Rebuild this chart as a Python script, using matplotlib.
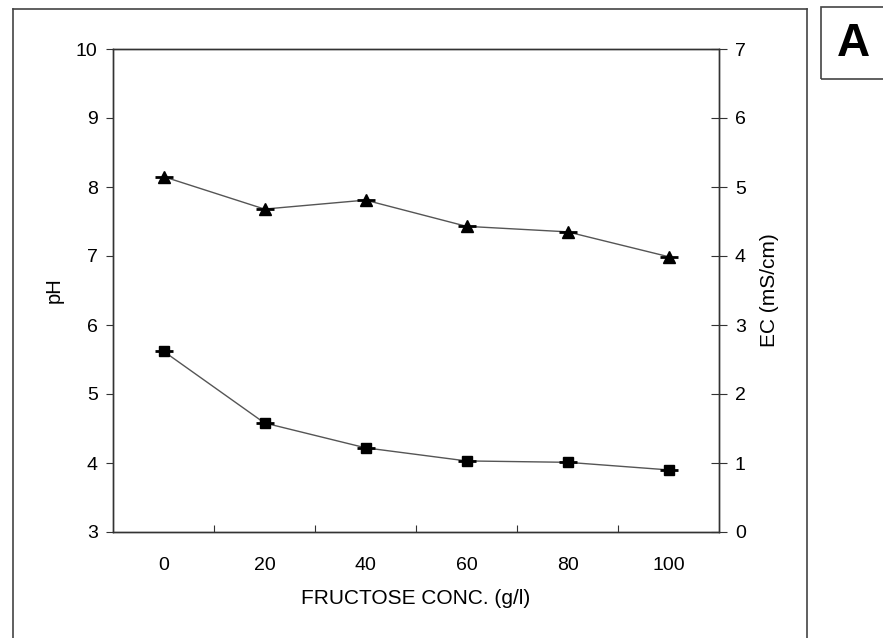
import matplotlib
matplotlib.use("Agg")
import matplotlib.pyplot as plt
from matplotlib.lines import Line2D
from matplotlib.patches import Rectangle

plt.rcParams['font.family'] = ['Liberation Sans', 'DejaVu Sans']

# Fructose concentration (g/l)
fructose = [0, 20, 40, 60, 80, 100]
# pH of the broth (left axis)
ph = [5.62, 4.58, 4.22, 4.03, 4.01, 3.90]
# Electrical conductivity, mS/cm (right axis)
ec = [5.15, 4.68, 4.81, 4.43, 4.35, 3.99]

x_labels = ['0', '20', '40', '60', '80', '100']
ph_ticks = [3, 4, 5, 6, 7, 8, 9, 10]
ec_ticks = [0, 1, 2, 3, 4, 5, 6, 7]

W, H = 883, 638
fig = plt.figure(figsize=(W / 100, H / 100), dpi=100)

def fx(px):
    return px / W

def fy(py):
    return 1 - py / H

ink = '#333333'

ax = fig.add_axes([fx(113), fy(532), fx(719) - fx(113), fy(49) - fy(532)])
ax2 = ax.twinx()

ax.set_xlim(-10, 110)
ax.set_ylim(3, 10)
ax2.set_ylim(0, 7)

line_kw = dict(color='#555555', lw=1.0, zorder=2)
ax.plot(fructose, ph, **line_kw)
ax.plot(fructose, ph, ls='none', marker='s', ms=7, color='black', zorder=3)
ax.plot(fructose, ph, ls='none', marker='_', ms=13, mew=2, color='black', zorder=3)

ax2.plot(fructose, ec, **line_kw)
ax2.plot(fructose, ec, ls='none', marker='^', ms=8.5, color='black', zorder=3)
ax2.plot(fructose, ec, ls='none', marker='_', ms=13, mew=2, color='black', zorder=3)

# x axis: labels at categories, tick marks between them
ax.set_xticks(fructose)
ax.set_xticklabels(x_labels)
ax.set_xticks([10, 30, 50, 70, 90], minor=True)
ax.tick_params(axis='x', which='major', length=0, pad=18, labelsize=14)
ax.tick_params(axis='x', which='minor', direction='in', length=5, width=0.8, color=ink)

ax.set_yticks(ph_ticks)
ax.tick_params(axis='y', which='major', direction='out', length=5, width=0.8,
               color=ink, labelsize=14, pad=6)
ax2.set_yticks(ec_ticks)
ax2.tick_params(axis='y', which='major', direction='inout', length=11, width=0.8,
                color=ink, labelsize=14, pad=6)

for a in (ax, ax2):
    for s in a.spines.values():
        s.set_color(ink)
        s.set_linewidth(1.0)

ax.set_xlabel('FRUCTOSE CONC. (g/l)', fontsize=15, labelpad=11)
ax.set_ylabel('pH', fontsize=14.5, labelpad=9)
ax2.set_ylabel('EC (mS/cm)', fontsize=15, labelpad=10)

# Outer frame (continues past the bottom edge)
frame_kw = dict(color='#444444', lw=1.2, transform=fig.transFigure)
fig.add_artist(Line2D([fx(13), fx(13)], [fy(9), 0], **frame_kw))
fig.add_artist(Line2D([fx(13), fx(807)], [fy(9), fy(9)], **frame_kw))
fig.add_artist(Line2D([fx(807), fx(807)], [fy(9), 0], **frame_kw))

# Panel letter box
fig.add_artist(Rectangle((fx(821), fy(79)), fx(900) - fx(821), fy(7) - fy(79),
                         transform=fig.transFigure, fill=False,
                         edgecolor='#444444', lw=1.2))
fig.text(fx(853), fy(44), 'A', fontsize=33, fontweight='bold',
         ha='center', va='center')

fig.savefig('out.png', dpi=100)
